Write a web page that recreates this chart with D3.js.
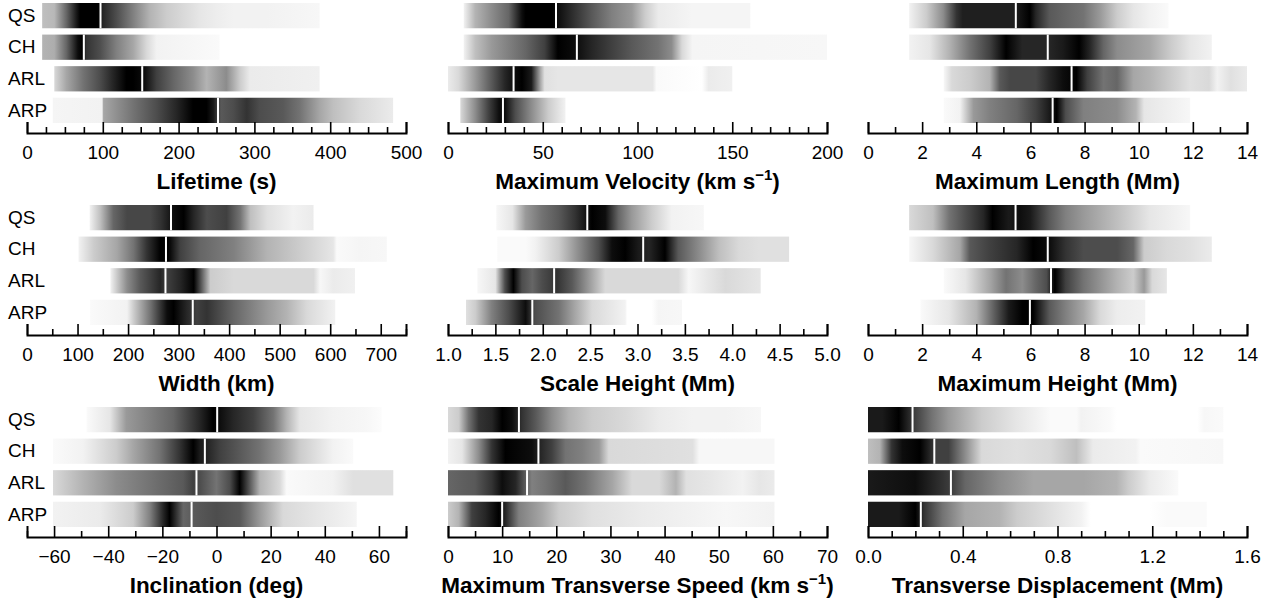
<!DOCTYPE html>
<html lang="en">
<head>
<meta charset="UTF-8">
<style>
    body { margin: 0; background: #fff; }
    svg { display: block; }
    .axis text { font-family: "Liberation Sans", Arial, sans-serif; font-size: 19px; fill: #000; }
    .axis path, .axis line { stroke: #000; fill: none; }
    .axis path { stroke-width: 2px; }
    .axis line { stroke-width: 1.6px; }
    .title { font-family: "Liberation Sans", Arial, sans-serif; font-size: 22.5px; font-weight: bold; text-anchor: middle; }
    .rowlab { font-family: "Liberation Sans", Arial, sans-serif; font-size: 19px; }
</style>
</head>
<body>
<div id="chart"></div>
<script src="https://cdn.jsdelivr.net/npm/d3@7"></script>
<script>
// categories (rows of every panel)
var rows = ["QS", "CH", "ARL", "ARP"];

var lifetimeDens = [
    [[20,.25],[36,.28],[52,.6],[65,.9],[70,1],[94,1],[100,.85],[118,.7],[140,.5],[162,.3],[184,.2],[206,.15],[228,.1],[250,.07],[272,.05],[316,.05],[386,.03]],
    [[20,.3],[36,.32],[52,.6],[67,.95],[72,1],[78,.8],[96,.7],[118,.5],[140,.35],[158,.15],[171,.05],[254,.02]],
    [[36,.15],[52,.35],[74,.55],[96,.7],[113,.85],[131,1],[140,1],[155,.95],[171,.75],[193,.6],[219,.45],[237,.3],[263,.45],[281,.2],[294,.08],[386,.06]],
    [[34,.04],[99,.05],[101,.35],[140,.55],[171,.7],[197,.85],[219,1],[237,1],[246,.9],[256,.65],[272,.7],[290,.8],[307,.7],[338,.65],[360,.55],[386,.35],[404,.25],[439,.15],[483,.08]]
];
var lifetimeMed = [97, 75, 152, 252];

var velocityDens = [
    [[8.3,.05],[14.4,.3],[23,.45],[32,.6],[39,.95],[41,1],[55,1],[58,.95],[67,.8],[76,.65],[86.5,.5],[97,.4],[104,.2],[111,.08],[129,.04],[159.5,.04]],
    [[8.3,.05],[14.4,.25],[23,.4],[41,.6],[51,.75],[58,1],[68,.95],[76,.85],[86.5,.75],[97,.65],[111,.55],[118,.45],[123.5,.15],[129,.04],[200,.03]],
    [[0,.08],[5.6,.15],[14.4,.4],[23,.65],[30,.85],[35,.95],[39,1],[44,.9],[48.7,.35],[51,.12],[58,.1],[108,.1],[110,.02],[134,0],[137.5,.08],[150,.06]],
    [[6.5,.15],[14.4,.45],[21.5,.75],[27,.95],[30,.95],[35.5,.7],[44,.45],[53,.2],[62,.05]]
];
var velocityMed = [57, 68, 34.6, 29];

var lengthDens = [
    [[1.52,.05],[2.16,.2],[2.78,.45],[3.27,.8],[3.5,.88],[5.4,.88],[5.6,.92],[5.98,1],[6.2,.85],[6.7,.65],[7.3,.6],[7.96,.55],[8.57,.4],[9.2,.2],[9.8,.1],[10.4,.05],[11.1,.02]],
    [[1.52,.05],[2.28,.1],[3.0,.3],[3.76,.55],[4.5,.75],[5.1,1],[5.7,.85],[6.7,.85],[7.2,.9],[7.8,1],[8.2,.85],[8.7,.6],[9.2,.45],[9.8,.4],[10.4,.35],[11.2,.2],[11.9,.1],[12.7,.05]],
    [[2.8,.03],[3.1,.15],[3.76,.2],[4.5,.3],[4.87,.65],[5.24,.72],[6.2,.72],[6.7,.85],[7.2,.95],[7.7,1],[8.1,.75],[8.7,.55],[9.2,.6],[9.8,.35],[10.4,.3],[11.2,.2],[11.9,.12],[12.6,.15],[12.9,.05],[13.4,.12],[14,.08]],
    [[2.8,.02],[3.4,.05],[3.9,.4],[4.5,.5],[5.5,.6],[6.2,.75],[6.7,.9],[6.97,1],[7.3,.7],[7.96,.5],[9.2,.45],[9.9,.3],[10.2,.1],[11.9,.03]]
];
var lengthMed = [5.46, 6.64, 7.52, 6.82];

var widthDens = [
    [[124,.05],[145,.25],[171,.6],[198,.72],[244,.72],[264,.8],[290,.95],[310,1],[330,.85],[356,.7],[395,.75],[422,.55],[442,.25],[475,.12],[527,.05],[567,.08]],
    [[102,.05],[132,.2],[178,.35],[211,.55],[237,.8],[264,1],[280,1],[303,.75],[343,.6],[409,.5],[475,.3],[540,.2],[606,.1],[613,.02],[659,.04],[712,.03]],
    [[165,.05],[198,.45],[224,.65],[244,.75],[264,.85],[277,.75],[303,.85],[330,1],[343,.7],[363,.2],[409,.15],[567,.15],[580,.03],[606,.08],[649,.06]],
    [[125,.02],[198,.05],[211,.2],[244,.55],[277,.95],[290,1],[316,.85],[336,.75],[356,.8],[409,.6],[475,.4],[514,.3],[554,.15],[610,.05]]
];
var widthMed = [285, 275, 274, 328];

var scaleDens = [
    [[1.51,.03],[1.68,.1],[1.82,.4],[1.99,.55],[2.17,.65],[2.34,.8],[2.52,1],[2.66,.95],[2.8,.6],[2.94,.4],[3.15,.2],[3.36,.05],[3.7,.03]],
    [[1.52,.02],[1.82,.02],[1.92,.05],[2.17,.2],[2.38,.45],[2.59,.7],[2.73,.95],[2.87,1],[3.01,.9],[3.12,.85],[3.29,1],[3.43,.65],[3.65,.45],[3.86,.25],[4.07,.15],[4.28,.12],[4.6,.12]],
    [[1.31,.03],[1.5,.1],[1.6,.7],[1.69,1],[1.78,.7],[1.89,.6],[1.99,.7],[2.15,.8],[2.31,.65],[2.52,.35],[2.66,.15],[3.43,.15],[3.54,.03],[3.75,.1],[3.93,.15],[4.3,.1]],
    [[1.19,.12],[1.29,.2],[1.46,.5],[1.64,.7],[1.82,.95],[1.92,.7],[2.17,.55],[2.34,.35],[2.52,.15],[2.87,.05],[2.89,0],[3.15,0],[3.22,.04],[3.47,.03]]
];
var scaleMed = [2.47, 3.06, 2.12, 1.89];

var heightDens = [
    [[1.52,.15],[2.4,.25],[3.0,.55],[3.6,.7],[4.26,.85],[4.6,1],[5.2,.9],[5.6,.95],[6.0,.9],[6.7,.65],[7.3,.5],[7.96,.4],[9.2,.25],[10.4,.1],[11.9,.03]],
    [[1.52,.03],[2.4,.15],[3.4,.35],[3.76,.65],[4.5,.75],[5.5,.85],[6.1,1],[6.72,.95],[7.3,.8],[7.96,.7],[9.2,.7],[9.8,.6],[10.2,.2],[11.04,.15],[11.9,.12],[12.7,.08]],
    [[2.8,.02],[3.6,.1],[4.5,.35],[5.1,.55],[5.7,.45],[6.2,.6],[6.6,.7],[6.9,1],[7.3,.75],[7.96,.55],[9.2,.3],[9.8,.2],[10.2,.4],[10.5,.15],[11.04,.1]],
    [[1.94,.02],[3.0,.1],[4.0,.3],[4.6,.6],[5.2,.9],[5.7,1],[6.1,1],[6.7,.65],[7.3,.5],[7.96,.35],[8.57,.15],[9.2,.07],[10.24,.05]]
];
var heightMed = [5.45, 6.64, 6.76, 5.98];

var inclinationDens = [
    [[-48,.02],[-39.4,.1],[-33.3,.4],[-24.6,.5],[-16,.6],[-6.2,.85],[-1.2,1],[1.2,.95],[6.2,.85],[13.6,.75],[21,.55],[25.9,.3],[30.8,.1],[43,.05],[55.5,.03],[61,.01]],
    [[-60.4,.02],[-49.3,.05],[-37,.2],[-30.8,.35],[-21,.55],[-13.6,.8],[-8.6,1],[-6.2,.9],[-3.1,.85],[1.2,.75],[8.6,.65],[16,.55],[23.4,.4],[30.8,.2],[43,.05],[50.5,.02]],
    [[-60.4,.15],[-49.3,.3],[-37,.45],[-24.6,.55],[-12.3,.65],[-8.6,.75],[-6.2,.7],[0,.55],[4.9,.7],[8.6,1],[12.3,.65],[16,.3],[23.4,.15],[25.9,.02],[43,.05],[50.5,.12],[65.3,.12]],
    [[-60.4,.05],[-43,.08],[-30.8,.2],[-24.6,.5],[-19.7,.85],[-17.3,1],[-12.3,.6],[-8,.65],[0,.7],[8.6,.65],[16,.4],[24.6,.15],[37,.1],[49.3,.05],[51.8,.04]]
];
var inclinationMed = [0.25, -4.3, -7.4, -9.2];

var speedDens = [
    [[0,.15],[2,.2],[3.8,.55],[5.7,.8],[8.1,.85],[10,1],[11.8,.95],[13.7,.8],[16.2,.65],[19.2,.45],[22.3,.3],[26.6,.2],[32.8,.15],[39,.08],[45.2,.05],[51.3,.05],[57.8,.03]],
    [[0,.05],[2.6,.1],[5.7,.45],[8.1,.8],[10.6,1],[15.5,.95],[17.1,.85],[19.2,.75],[21.7,.55],[24.8,.5],[27.9,.4],[29.7,.15],[45.2,.12],[46.4,.03],[60.3,.03]],
    [[0,.6],[5,.65],[8.1,.8],[10,.95],[12.5,.85],[15.5,.5],[18,.55],[21.7,.65],[25.4,.55],[30.4,.35],[34,.15],[39,.15],[42.1,.3],[44,.12],[48.2,.1],[54.4,.05],[57.5,.1],[60.3,.08]],
    [[0,.2],[2,.3],[4.4,.75],[6.9,.85],[9.4,1],[10.6,.85],[13.1,.5],[17.4,.35],[20.5,.2],[26.6,.12],[35.9,.08],[45.2,.05],[51.3,.03],[60.3,.05]]
];
var speedMed = [13.1, 16.7, 14.6, 10];

var dispDens = [
    [[0,.9],[.06,.9],[.13,1],[.2,.75],[.27,.55],[.34,.4],[.41,.3],[.48,.2],[.63,.1],[.77,.02],[.88,.02],[.9,.05],[1.02,.02],[1.05,0],[1.39,0],[1.42,.03],[1.5,.02]],
    [[0,.25],[.05,.3],[.1,.8],[.145,.95],[.22,1],[.29,.75],[.34,.75],[.41,.45],[.48,.15],[.63,.12],[.77,.15],[.88,.25],[.95,.08],[1.13,.05],[1.15,.02],[1.5,.03]],
    [[0,.9],[.2,.95],[.357,.75],[.41,.6],[.555,.45],[.7,.35],[.91,.35],[1.05,.3],[1.1,.2],[1.19,.08],[1.31,.02]],
    [[0,.9],[.13,.9],[.2,1],[.237,.8],[.315,.55],[.41,.35],[.555,.3],[.63,.2],[.77,.12],[.9,.05],[.94,0],[1.19,0],[1.26,.02],[1.43,.02]]
];
var dispMed = [.188, .28, .35, .223];

// tick labels
var lifetimeTicks = [0, 100, 200, 300, 400, 500];
var velocityTicks = [0, 50, 100, 150, 200];
var lengthTicks = [0, 2, 4, 6, 8, 10, 12, 14];
var widthTicks = [0, 100, 200, 300, 400, 500, 600, 700];
var scaleTicks = [1.0, 1.5, 2.0, 2.5, 3.0, 3.5, 4.0, 4.5, 5.0];
var heightTicks = [0, 2, 4, 6, 8, 10, 12, 14];
var inclinationTicks = [-60, -40, -20, 0, 20, 40, 60];
var speedTicks = [0, 10, 20, 30, 40, 50, 60, 70];
var dispTicks = [0.0, 0.4, 0.8, 1.2, 1.6];

var panels = [
    { title: "Lifetime (s)", domain: [0, 500], ticks: lifetimeTicks, minor: 25, fmt: "d", dens: lifetimeDens, med: lifetimeMed },
    { title: "Maximum Velocity (km s", sup: "\u22121", domain: [0, 200], ticks: velocityTicks, minor: 10, fmt: "d", dens: velocityDens, med: velocityMed },
    { title: "Maximum Length (Mm)", domain: [0, 14], ticks: lengthTicks, minor: 1, fmt: "d", dens: lengthDens, med: lengthMed },
    { title: "Width (km)", domain: [0, 750], ticks: widthTicks, minor: 50, fmt: "d", dens: widthDens, med: widthMed },
    { title: "Scale Height (Mm)", domain: [1, 5], ticks: scaleTicks, minor: 0.25, fmt: ".1f", dens: scaleDens, med: scaleMed },
    { title: "Maximum Height (Mm)", domain: [0, 14], ticks: heightTicks, minor: 1, fmt: "d", dens: heightDens, med: heightMed },
    { title: "Inclination (deg)", domain: [-70, 70], ticks: inclinationTicks, minor: 10, fmt: "d", dens: inclinationDens, med: inclinationMed },
    { title: "Maximum Transverse Speed (km s", sup: "\u22121", domain: [0, 70], ticks: speedTicks, minor: 5, fmt: "d", dens: speedDens, med: speedMed },
    { title: "Transverse Displacement (Mm)", domain: [0, 1.6], ticks: dispTicks, minor: 0.1, fmt: ".1f", dens: dispDens, med: dispMed }
];

var W = 1276, H = 605;
var colX = [[27, 406], [448, 827], [868, 1247]];
var axisY = [133, 335, 537];

var gray = d3.scaleLinear().domain([0, 1]).range(["#ffffff", "#000000"]);

var svg = d3.select("#chart").append("svg")
    .attr("width", W)
    .attr("height", H);
svg.append("rect").attr("width", W).attr("height", H).attr("fill", "#fff");

var defs = svg.append("defs");

panels.forEach(function (p, i) {
    var col = i % 3, row = Math.floor(i / 3);
    var x = d3.scaleLinear().domain(p.domain).range(colX[col]);
    var y = d3.scaleBand().domain(rows).range([axisY[row] - 130, axisY[row] - 10]).paddingInner(0.2);

    var g = svg.append("g");

    p.dens.forEach(function (stops, r) {
        var x0 = x(stops[0][0]), x1 = x(stops[stops.length - 1][0]);
        var id = "grad" + i + "_" + r;
        var grad = defs.append("linearGradient")
            .attr("id", id)
            .attr("gradientUnits", "userSpaceOnUse")
            .attr("x1", x0).attr("x2", x1)
            .attr("y1", 0).attr("y2", 0);
        grad.selectAll("stop")
            .data(stops)
            .enter().append("stop")
            .attr("offset", function (d) { return (x(d[0]) - x0) / (x1 - x0); })
            .attr("stop-color", function (d) { return gray(d[1]); });

        g.append("rect")
            .attr("x", x0)
            .attr("y", y(rows[r]))
            .attr("width", x1 - x0)
            .attr("height", y.bandwidth())
            .attr("fill", "url(#" + id + ")");

        // median marker
        g.append("line")
            .attr("x1", x(p.med[r])).attr("x2", x(p.med[r]))
            .attr("y1", y(rows[r])).attr("y2", y(rows[r]) + y.bandwidth())
            .attr("stroke", "#fff")
            .attr("stroke-width", 2);

        if (col === 0) {
            g.append("text")
                .attr("class", "rowlab")
                .attr("x", 8)
                .attr("y", y(rows[r]) + y.bandwidth() / 2)
                .attr("dy", "0.33em")
                .text(rows[r]);
        }
    });

    var minorVals = d3.range(p.domain[0], p.domain[1] + p.minor / 2, p.minor)
        .filter(function (v) {
            return !p.ticks.some(function (t) { return Math.abs(t - v) < p.minor / 10; });
        });

    var minorAxis = d3.axisBottom(x)
        .tickValues(minorVals)
        .tickSize(-6)
        .tickFormat("");
    g.append("g")
        .attr("class", "axis")
        .attr("transform", "translate(0," + axisY[row] + ")")
        .call(minorAxis)
        .select(".domain").remove();

    var majorAxis = d3.axisBottom(x)
        .tickValues(p.ticks)
        .tickSizeInner(-11)
        .tickSizeOuter(-11)
        .tickPadding(13)
        .tickFormat(d3.format(p.fmt));
    g.append("g")
        .attr("class", "axis")
        .attr("transform", "translate(0," + axisY[row] + ")")
        .call(majorAxis);

    var t = g.append("text")
        .attr("class", "title")
        .attr("x", (colX[col][0] + colX[col][1]) / 2)
        .attr("y", axisY[row] + 56);
    t.append("tspan").text(p.title);
    if (p.sup) {
        t.append("tspan").attr("dy", -9).attr("font-size", "15px").text(p.sup);
        t.append("tspan").attr("dy", 9).text(")");
    }
});
</script>
</body>
</html>
